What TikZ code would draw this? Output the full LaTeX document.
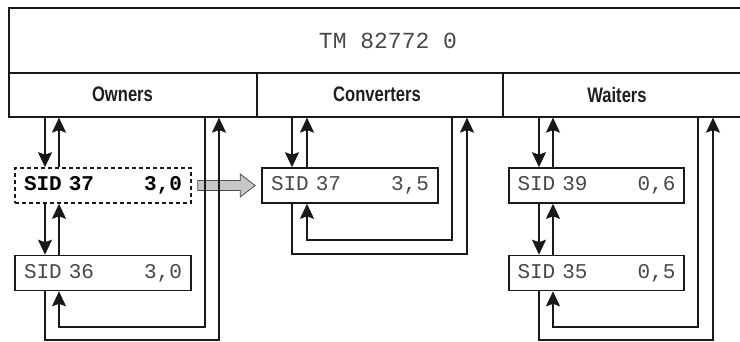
\documentclass[tikz,border=0pt]{standalone}
\usepackage{fontspec}
\setmainfont{Liberation Sans}
\setmonofont{Liberation Mono}
\newfontfamily\hdrfont[FakeStretch=0.79]{Liberation Sans}
\usetikzlibrary{arrows.meta,calc}
\begin{document}
\begin{tikzpicture}[x=1pt,y=-1pt,
  frame/.style={draw=black!90,line width=1.6pt,inner sep=0pt},
  hdr/.style={font=\hdrfont\bfseries\fontsize{21}{21}\selectfont,text=black!88},
  sidbox/.style={draw=black!90,line width=1.6pt,fill=white,minimum width=176pt,minimum height=35pt,
    text width=158pt,inner xsep=8pt,inner ysep=0pt,font=\ttfamily\fontsize{21}{21}\selectfont,text=black!72},
  link/.style={line width=1.8pt,draw=black!90,-{Stealth[length=15pt,width=14pt,inset=2.5pt]}},
  grayarrow/.style={fill=black!22,draw=black!70,line width=0.8pt}
]
\useasboundingbox (0,0) rectangle (740,341);
\clip (0,0) rectangle (740,341);
% frame
\node[frame,anchor=north west,minimum width=760pt,minimum height=65pt] (tm) at (8,7) {};
\node[frame,anchor=north west,minimum width=248pt,minimum height=44pt] (owners) at (8,72) {};
\node[frame,anchor=north west,minimum width=246pt,minimum height=44pt] (converters) at (256,72) {};
\node[frame,anchor=north west,minimum width=260pt,minimum height=44pt] (waiters) at (502,72) {};
\node[font=\ttfamily\fontsize{23}{23}\selectfont,text=black!72] (tmlabel) at (388,41) {TM 82772 0};
\node[hdr] (ownlabel) at (122.5,94.5) {Owners};
\node[hdr] (convlabel) at (377,94.5) {Converters};
\node[hdr] (waitlabel) at (617,94.5) {Waiters};
% boxes
\node[sidbox,dash pattern=on 4pt off 3pt,font=\ttfamily\bfseries\fontsize{21}{21}\selectfont,text=black] (sid37a) at (103,185.5) {SID 37\hfill 3,0};
\node[sidbox] (sid36) at (103,273) {SID 36\hfill 3,0};
\node[sidbox] (sid37b) at (350,185.5) {SID 37\hfill 3,5};
\node[sidbox,minimum width=175pt] (sid39) at (596.5,185.5) {SID 39\hfill 0,6};
\node[sidbox,minimum width=175pt] (sid35) at (596.5,273) {SID 35\hfill 0,5};
% column and level coordinates
\coordinate (oa) at (45,0);  \coordinate (ob) at (59,0);  \coordinate (oc) at (205,0); \coordinate (od) at (219,0);
\coordinate (ca) at (292,0); \coordinate (cb) at (307,0); \coordinate (cc) at (452,0); \coordinate (cd) at (467,0);
\coordinate (wa) at (539,0); \coordinate (wb) at (553,0); \coordinate (wc) at (698,0); \coordinate (wd) at (713,0);
\coordinate (lowin) at (0,327); \coordinate (lowout) at (0,340);
\coordinate (cin) at (0,240);  \coordinate (cout) at (0,254);
% gray transfer arrow
\path (sid37a.east) ++(6,0) coordinate (ga);
\path (sid37b.west) ++(-6,0) coordinate (gb);
\draw[grayarrow] ($(ga)+(0,-5)$) -- ($(gb)+(-15,-5)$) -- ($(gb)+(-15,-11.5)$) -- (gb)
  -- ($(gb)+(-15,11.5)$) -- ($(gb)+(-15,5)$) -- ($(ga)+(0,5)$) -- cycle;
% owners
\draw[link] (owners.south -| oa) -- (sid37a.north -| oa);
\draw[link] (sid37a.north -| ob) -- (owners.south -| ob);
\draw[link] (sid37a.south -| oa) -- (sid36.north -| oa);
\draw[link] (sid36.north -| ob) -- (sid37a.south -| ob);
\draw[link] (owners.south -| oc) -- (oc |- lowin) -- (ob |- lowin) -- (sid36.south -| ob);
\draw[link] (sid36.south -| oa) -- (oa |- lowout) -- (od |- lowout) -- (owners.south -| od);
% converters
\draw[link] (converters.south -| ca) -- (sid37b.north -| ca);
\draw[link] (sid37b.north -| cb) -- (converters.south -| cb);
\draw[link] (converters.south -| cc) -- (cc |- cin) -- (cb |- cin) -- (sid37b.south -| cb);
\draw[link] (sid37b.south -| ca) -- (ca |- cout) -- (cd |- cout) -- (converters.south -| cd);
% waiters
\draw[link] (waiters.south -| wa) -- (sid39.north -| wa);
\draw[link] (sid39.north -| wb) -- (waiters.south -| wb);
\draw[link] (sid39.south -| wa) -- (sid35.north -| wa);
\draw[link] (sid35.north -| wb) -- (sid39.south -| wb);
\draw[link] (waiters.south -| wc) -- (wc |- lowin) -- (wb |- lowin) -- (sid35.south -| wb);
\draw[link] (sid35.south -| wa) -- (wa |- lowout) -- (wd |- lowout) -- (waiters.south -| wd);
\end{tikzpicture}
\end{document}
